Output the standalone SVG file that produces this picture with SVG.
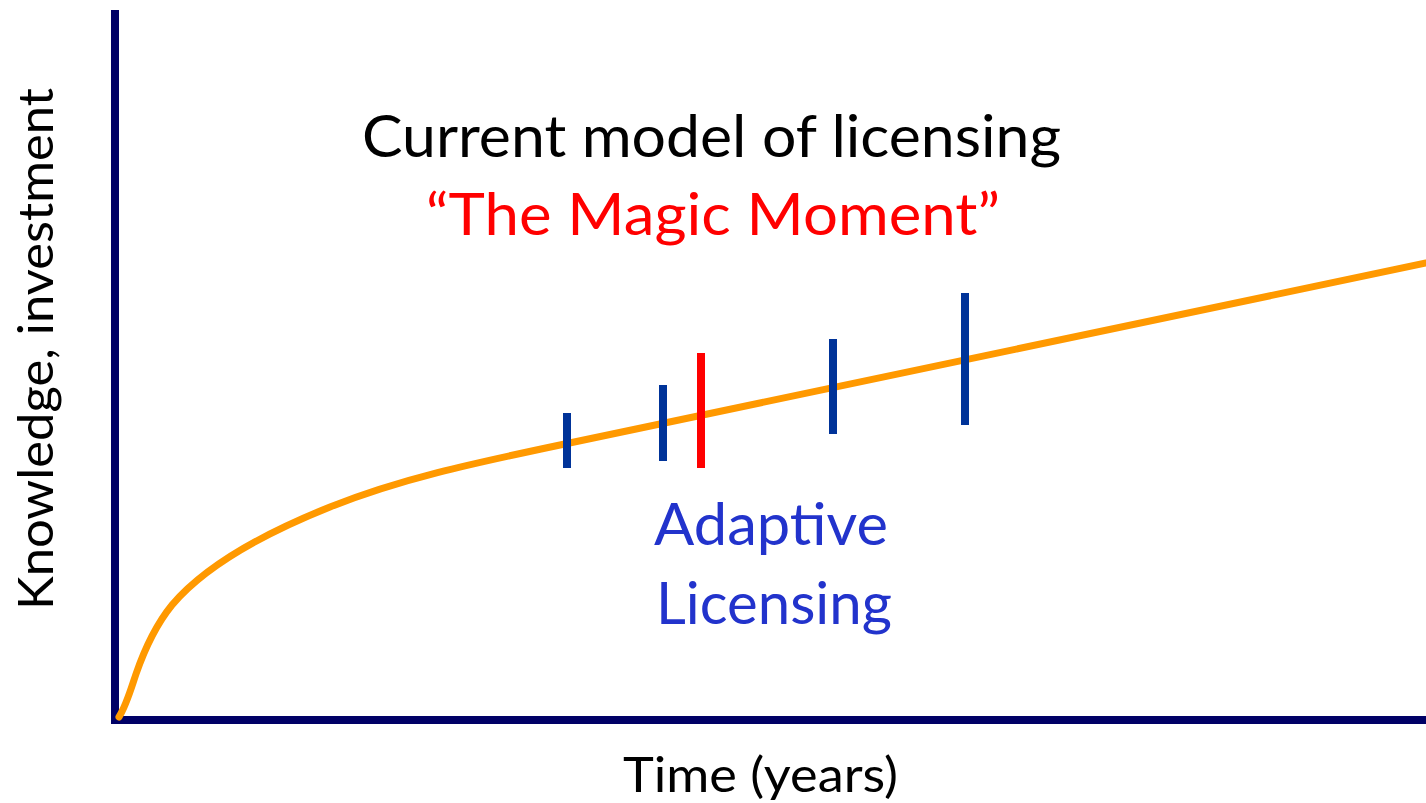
<svg xmlns="http://www.w3.org/2000/svg" width="1426" height="803" viewBox="0 0 1426 803">
<style>
.axis{stroke:#000066;stroke-width:8;fill:none}
.curve{stroke:#FF9900;stroke-width:7;fill:none;stroke-linecap:round}
.tick{stroke:#003399;stroke-width:8}
.tick-red{stroke:#FF0000;stroke-width:8}
.t{font-family:Lato,"Open Sans","Liberation Sans",sans-serif}
.big{font-size:59px}
.mid{font-size:48px}
</style>
<rect width="1426" height="803" fill="#FFFFFF"/>
<g id="axes">
<line class="axis" x1="115" y1="10" x2="115" y2="724"/>
<line class="axis" x1="111" y1="720" x2="1426" y2="720"/>
</g>
<g id="curve">
<path class="curve" d="M119,717 C126,706 130,692 136,674 C145,648 155,626 172,605 C205,566 260,535 330,507 C400,479 470,464 560,445 L1426,263"/>
</g>
<g id="ticks">
<line class="tick" x1="567" y1="413" x2="567" y2="468"/>
<line class="tick" x1="663" y1="385" x2="663" y2="461"/>
<line class="tick-red" x1="701" y1="353" x2="701" y2="468"/>
<line class="tick" x1="833" y1="339" x2="833" y2="434"/>
<line class="tick" x1="965" y1="293" x2="965" y2="425"/>
</g>
<g id="title">
<text class="t big" x="362" y="157" fill="#000000" textLength="699" lengthAdjust="spacingAndGlyphs">Current model of licensing</text>
<text class="t big" x="426" y="235" fill="#FF0000" textLength="574" lengthAdjust="spacingAndGlyphs">“The Magic Moment”</text>
</g>
<g id="adaptive-label">
<text class="t big" x="654" y="545" fill="#2233CC" textLength="234" lengthAdjust="spacingAndGlyphs">Adaptive</text>
<text class="t big" x="656" y="624" fill="#2233CC" textLength="236" lengthAdjust="spacingAndGlyphs">Licensing</text>
</g>
<g id="x-label">
<text class="t mid" x="623" y="792" fill="#000000" textLength="275" lengthAdjust="spacingAndGlyphs">Time (years)</text>
</g>
<g id="y-label">
<text class="t mid" transform="translate(53,610) rotate(-90)" x="0" y="0" fill="#000000" textLength="522" lengthAdjust="spacingAndGlyphs">Knowledge, investment</text>
</g>
</svg>
